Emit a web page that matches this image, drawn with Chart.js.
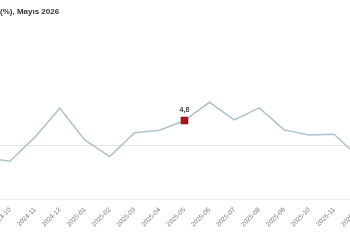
<!DOCTYPE html>
<html>
<head>
<meta charset="utf-8">
<script src="https://cdn.jsdelivr.net/npm/chart.js@4"></script>
<style>
  html, body { margin: 0; padding: 0; background: #fff; overflow: hidden; }
  #wrap { position: relative; width: 350px; height: 250px; overflow: hidden; }
  #title { position: absolute; left: 0; top: 7px; font: bold 8px "Liberation Sans", Arial, sans-serif; color: #333; white-space: nowrap; }
  #c { position: absolute; left: -15px; top: 0; }
</style>
</head>
<body>
<div id="wrap">
  <canvas id="c" width="374" height="250"></canvas>
  <div id="title">(%), Mayıs 2026</div>
</div>
<script>
const categories = ["2024-09","2024-10","2024-11","2024-12","2025-01","2025-02","2025-03","2025-04","2025-05","2025-06","2025-07","2025-08","2025-09","2025-10","2025-11","2025-12"];
const values = [3.61, 3.50, 4.27, 5.19, 4.18, 3.65, 4.41, 4.49, 4.80, 5.38, 4.82, 5.20, 4.50, 4.34, 4.36, 3.63];
const highlightCategory = "2025-05";
const highlightLabel = "4,8";
const gridValues = [4];

const hi = categories.indexOf(highlightCategory);

const labelPlugin = {
  id: 'hiLabel',
  afterDatasetsDraw(chart) {
    const pt = chart.getDatasetMeta(0).data[hi];
    if (!pt) return;
    const ctx = chart.ctx;
    ctx.save();
    ctx.font = 'bold 7px "Liberation Sans", Arial, sans-serif';
    ctx.fillStyle = '#444';
    ctx.textAlign = 'center';
    ctx.textBaseline = 'bottom';
    ctx.fillText(highlightLabel, pt.x, pt.y - 7);
    ctx.restore();
  }
};

new Chart(document.getElementById('c'), {
  type: 'line',
  data: {
    labels: categories,
    datasets: [{
      data: values,
      borderColor: '#adc3ca',
      borderWidth: 1.5,
      tension: 0,
      pointStyle: 'rect',
      pointRadius: ctx => ctx.dataIndex === hi ? 5 : 0,
      pointHoverRadius: 0,
      pointBackgroundColor: '#a8151c',
      pointBorderColor: '#8e1117',
      pointBorderWidth: 0.5
    }]
  },
  options: {
    responsive: false,
    animation: false,
    events: [],
    layout: { padding: { left: 0, right: 0, top: 20, bottom: 0 } },
    plugins: { legend: { display: false }, tooltip: { enabled: false }, title: { display: false } },
    scales: {
      x: {
        offset: false,
        grid: { display: false },
        border: { display: true, color: '#ececec', width: 1 },
        ticks: {
          minRotation: 45, maxRotation: 45, autoSkip: false,
          padding: -1,
          color: '#777',
          font: { size: 6.5, family: '"Liberation Sans", Arial, sans-serif' }
        },
        afterFit(scale) { scale.height = 51; scale.paddingLeft = 0; scale.paddingRight = 0; }
      },
      y: {
        display: true,
        min: 2.3, max: 8.0,
        afterBuildTicks(scale) { scale.ticks = gridValues.map(v => ({ value: v })); },
        ticks: { display: false },
        border: { display: false },
        grid: { color: '#e6e6e6', lineWidth: 1, drawTicks: false },
        afterFit(scale) { scale.width = 0; }
      }
    }
  },
  plugins: [labelPlugin]
});
</script>
</body>
</html>
